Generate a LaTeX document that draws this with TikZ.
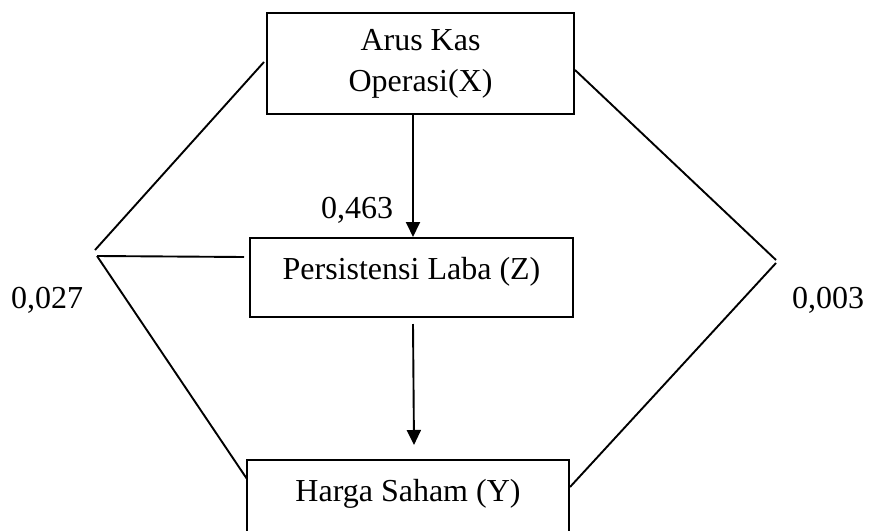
\documentclass[tikz,border=0pt]{standalone}
\usepackage{fontspec}
\setmainfont{Liberation Serif}
\usetikzlibrary{arrows.meta,calc}
\begin{document}
\begin{tikzpicture}[x=1pt,y=-1pt,
  every node/.style={font=\fontsize{32}{41}\selectfont},
  boxnode/.style={draw,line width=2pt,rectangle,inner sep=0pt,text height=18pt,text depth=14pt},
  link/.style={line width=1.9pt},
  arr/.style={line width=1.9pt,-{Triangle[length=15pt,width=14pt]}},
  lab/.style={anchor=base,inner sep=0pt}]
\useasboundingbox (0,0) rectangle (872,530);
\clip (0,0) rectangle (872,530);
\node[boxnode,minimum width=307pt,minimum height=101pt,text height=,text depth=,align=center] (X) at (420.5,63.5) {Arus Kas\\Operasi(X)};
\node[boxnode,minimum width=323pt,minimum height=79pt] (Z) at (411.5,277.5) {Persistensi Laba (Z)};
\node[boxnode,minimum width=322pt,minimum height=78pt] (Y) at (408,499) {Harga Saham (Y)};
% vertices
\coordinate (L1) at (95,250);
\coordinate (L2) at (97,256);
\coordinate (R1) at (776,260);
\coordinate (R2) at (776,263);
\coordinate (a1) at (413,0);
% left connectors
\draw[link] ($(X.west)+(-2,-1.5)$) -- (L1);
\draw[link] (L2) -- ($(Z.north west)+(-5,20)$);
\draw[link] (L2) -- ($(Y.north west)+(1,20)$);
% right connectors
\draw[link] ($(X.east)+(0,6.5)$) -- (R1);
\draw[link] (R2) -- ($(Y.north east)+(0,28)$);
% arrows
\draw[arr] (X.south -| a1) -- (Z.north -| a1);
\draw[arr] ($(Z.south -| a1)+(0,6)$) -- ($(Y.north -| a1)+(1,-14)$);
% labels
\node[lab] (l1) at (357,218) {0,463};
\node[lab] (l2) at (47,308) {0,027};
\node[lab] (l3) at (828,308) {0,003};
\end{tikzpicture}
\end{document}
